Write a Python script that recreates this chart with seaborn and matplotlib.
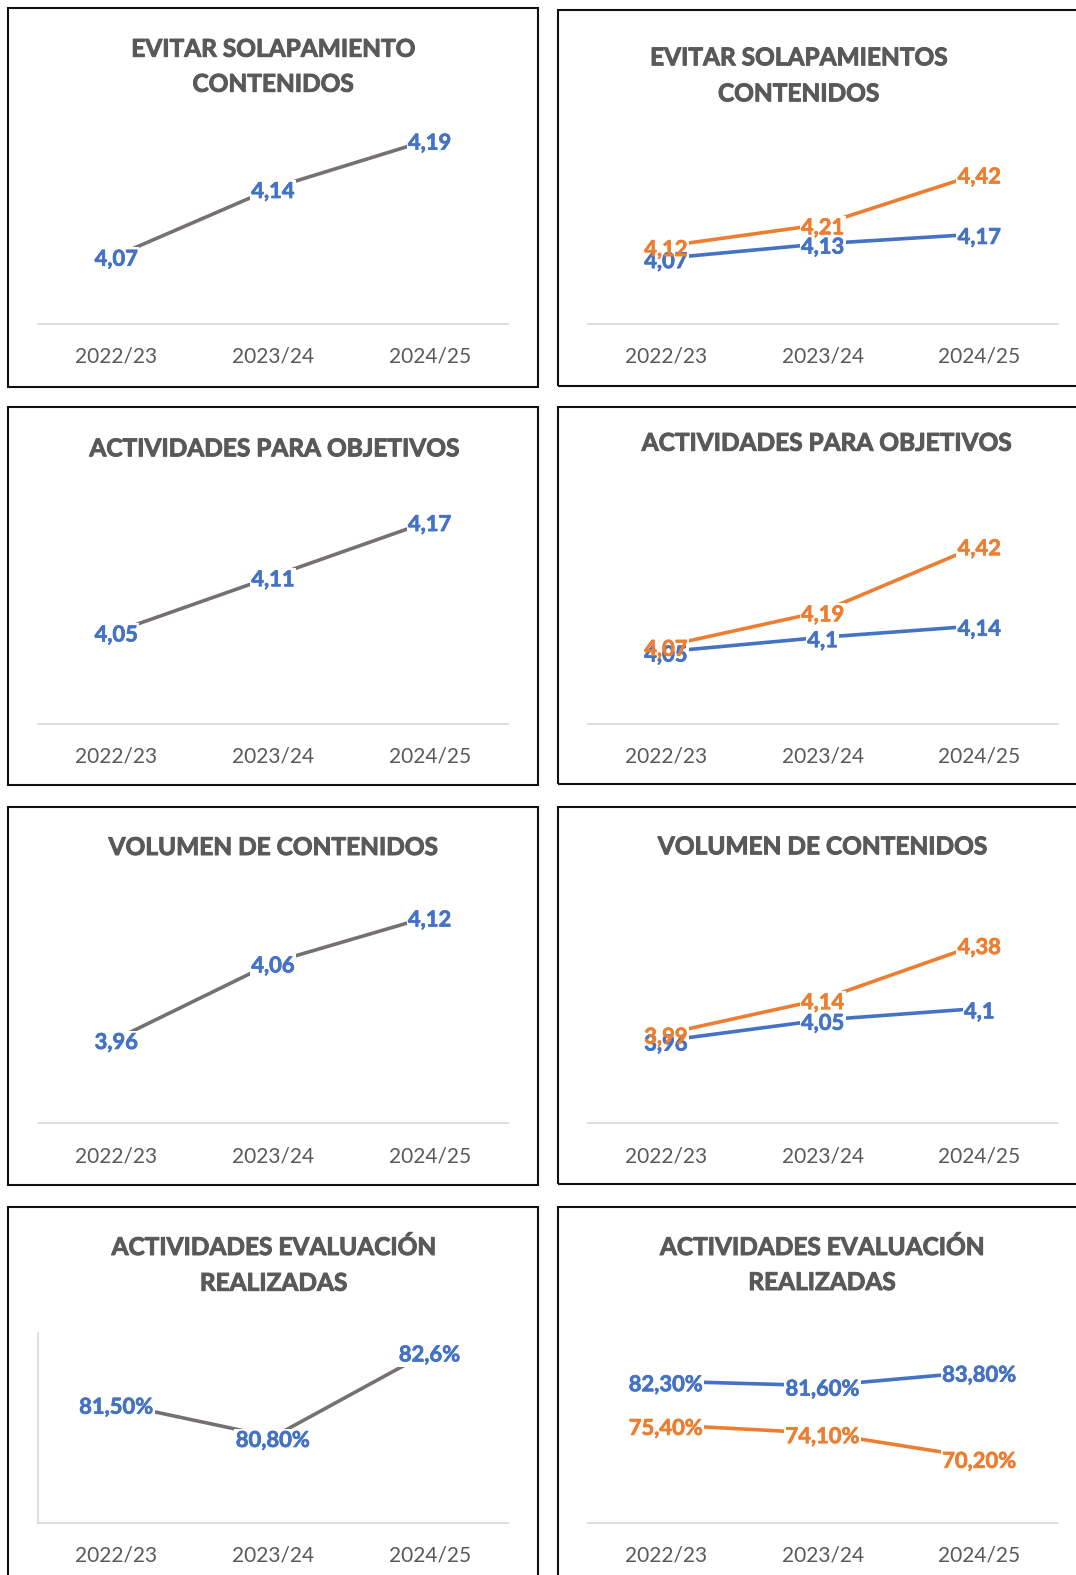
import numpy as np
import pandas as pd
import matplotlib
matplotlib.use("Agg")
import matplotlib.pyplot as plt
import matplotlib.patheffects as pe
import seaborn as sns
from matplotlib.patches import Rectangle

# ---------------- data ----------------
cursos = ["2022/23", "2023/24", "2024/25"]

# left column: one series
solap_total = [4.07, 4.14, 4.19]
objet_total = [4.05, 4.11, 4.17]
volum_total = [3.96, 4.06, 4.12]
evalu_total = [81.5, 80.8, 82.6]          # percent
evalu_total_dec = [2, 2, 1]               # decimals shown in labels

# right column: two series (blue / orange)
solap_azul = [4.07, 4.13, 4.17]
solap_naranja = [4.12, 4.21, 4.42]
objet_azul = [4.05, 4.10, 4.14]
objet_naranja = [4.07, 4.19, 4.42]
volum_azul = [3.96, 4.05, 4.10]
volum_naranja = [3.99, 4.14, 4.38]
evalu_azul = [82.3, 81.6, 83.8]           # percent
evalu_naranja = [75.4, 74.1, 70.2]        # percent

titulos_izq = [["EVITAR SOLAPAMIENTO", "CONTENIDOS"],
               ["ACTIVIDADES PARA OBJETIVOS"],
               ["VOLUMEN DE CONTENIDOS"],
               ["ACTIVIDADES EVALUACIÓN", "REALIZADAS"]]
titulos_der = [["EVITAR SOLAPAMIENTOS", "CONTENIDOS"],
               ["ACTIVIDADES PARA OBJETIVOS"],
               ["VOLUMEN DE CONTENIDOS"],
               ["ACTIVIDADES EVALUACIÓN", "REALIZADAS"]]

# ---------------- style ----------------
sns.set_style("white")
plt.rcParams["font.family"] = ["Lato", "DejaVu Sans"]

W, H = 1076, 1575
fig = plt.figure(figsize=(W / 100, H / 100), dpi=100)
fig.patch.set_facecolor("white")

GRIS = "#767171"
AZUL = "#4472C4"
NARANJA = "#ED7D31"
TXT = "#595959"
EJE = "#D9D9D9"
FS_LAB = 15.8
FS_TICK = 15
FS_TIT = 17.6


def fx(x):
    return x / W


def fy(y):
    return 1 - y / H


def box(x0, y0, x1, y1):
    fig.patches.append(Rectangle((fx(x0), fy(y1)), fx(x1) - fx(x0), fy(y0) - fy(y1),
                                 transform=fig.transFigure, fill=False,
                                 edgecolor="#111111", linewidth=1.5, zorder=0))


def fmt_num(v):
    return f"{v:g}".replace(".", ",")


def fmt_pct(v, d):
    return f"{v:.{d}f}%".replace(".", ",")


def label(ax, x, y, txt, color):
    off = -0.7165 * FS_LAB / 2 - 1.5
    ax.annotate(txt, xy=(x, y), xytext=(0, off), textcoords="offset points",
                ha="center", va="baseline", fontsize=FS_LAB, fontweight="bold",
                color="white", zorder=4,
                bbox=dict(boxstyle="square,pad=0.06", fc="white", ec="none"))
    ax.annotate(txt, xy=(x, y), xytext=(0, off), textcoords="offset points",
                ha="center", va="baseline", fontsize=FS_LAB, fontweight="bold",
                color=color, zorder=5,
                path_effects=[pe.withStroke(linewidth=0.5, foreground=color)])


def panel(x0, x1, ytop, ybot, ylim, series, left_spine=False):
    ax = fig.add_axes([fx(x0), fy(ybot), fx(x1) - fx(x0), fy(ytop) - fy(ybot)])
    ax.set_facecolor("none")
    rows = []
    for name, vals, col, labs in series:
        for i, v in enumerate(vals):
            rows.append({"pos": i, "valor": v, "serie": name})
    df = pd.DataFrame(rows)
    pal = {name: col for name, vals, col, labs in series}
    sns.lineplot(data=df, x="pos", y="valor", hue="serie", palette=pal,
                 linewidth=2.6, legend=False, ax=ax, zorder=2)
    for name, vals, col, labs in series:
        lab_col = AZUL if col == GRIS else col
        for i, (v, t) in enumerate(zip(vals, labs)):
            label(ax, i, v, t, lab_col)
    ax.set_xlim(-0.5, len(cursos) - 0.5)
    ax.set_ylim(*ylim)
    ax.set_xticks(range(len(cursos)))
    ax.set_xticklabels(cursos, fontsize=FS_TICK, color=TXT)
    ax.set_yticks([])
    ax.tick_params(axis="x", length=0, pad=16.5)
    ax.set_xlabel("")
    ax.set_ylabel("")
    for s in ["top", "right"]:
        ax.spines[s].set_visible(False)
    ax.spines["left"].set_visible(left_spine)
    ax.spines["left"].set_color(EJE)
    ax.spines["left"].set_linewidth(1.2)
    ax.spines["bottom"].set_color(EJE)
    ax.spines["bottom"].set_linewidth(1.2)
    return ax


def title(lines, xc, baselines):
    for t, b in zip(lines, baselines):
        fig.text(fx(xc), fy(b), t, ha="center", va="baseline", fontsize=FS_TIT,
                 fontweight="bold", color=TXT,
                 path_effects=[pe.withStroke(linewidth=0.7, foreground=TXT)])


LX0, LX1 = 38, 508
RX0, RX1 = 587.6, 1057.7

# boxes
box(8, 8.3, 538, 386.5)
box(8, 407, 538, 785.5)
box(8, 807, 538, 1185)
box(8, 1206.5, 538, 1620)
box(557.5, 9.5, 1110, 386)
box(557.5, 406.5, 1110, 784)
box(557.5, 806.5, 1110, 1184)
box(557.5, 1206.5, 1110, 1620)

# ---- row 1 ----
panel(LX0, LX1, 130, 323.5, (4.0, 4.2),
      [("total", solap_total, GRIS, [fmt_num(v) for v in solap_total])])
title(titulos_izq[0], 273, [56.7, 91.7])
panel(RX0, RX1, 130, 323.5, (3.8, 4.6),
      [("azul", solap_azul, AZUL, [fmt_num(v) for v in solap_azul]),
       ("naranja", solap_naranja, NARANJA, [fmt_num(v) for v in solap_naranja])])
title(titulos_der[0], 798.5, [65.3, 101.3])

# ---- row 2 ----
panel(LX0, LX1, 493.5, 723.5, (3.95, 4.2),
      [("total", objet_total, GRIS, [fmt_num(v) for v in objet_total])])
title(titulos_izq[1], 273.7, [456.3])
panel(RX0, RX1, 493.5, 723.5, (3.8, 4.6),
      [("azul", objet_azul, AZUL, [fmt_num(v) for v in objet_azul]),
       ("naranja", objet_naranja, NARANJA, [fmt_num(v) for v in objet_naranja])])
title(titulos_der[1], 826, [450.7])

# ---- row 3 ----
panel(LX0, LX1, 893.5, 1123.3, (3.85, 4.15),
      [("total", volum_total, GRIS, [fmt_num(v) for v in volum_total])])
title(titulos_izq[2], 273, [855])
panel(RX0, RX1, 893.5, 1123.3, (3.6, 4.6),
      [("azul", volum_azul, AZUL, [fmt_num(v) for v in volum_azul]),
       ("naranja", volum_naranja, NARANJA, [fmt_num(v) for v in volum_naranja])])
title(titulos_der[2], 822.3, [854.3])

# ---- row 4 ----
panel(LX0, LX1, 1332.5, 1522.5, (79, 83),
      [("total", evalu_total, GRIS,
        [fmt_pct(v, d) for v, d in zip(evalu_total, evalu_total_dec)])],
      left_spine=True)
title(titulos_izq[3], 273.4, [1255, 1290.7])
panel(RX0, RX1, 1332.5, 1522.5, (60, 90),
      [("azul", evalu_azul, AZUL, [fmt_pct(v, 2) for v in evalu_azul]),
       ("naranja", evalu_naranja, NARANJA, [fmt_pct(v, 2) for v in evalu_naranja])])
title(titulos_der[3], 821.8, [1255, 1290])

fig.savefig("out.png", dpi=100, facecolor="white")
